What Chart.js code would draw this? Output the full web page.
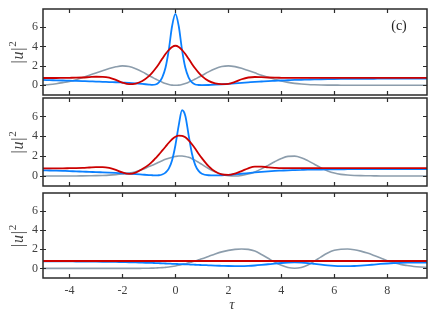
<!DOCTYPE html>
<html>
<head>
<meta charset="utf-8">
<script src="https://cdn.jsdelivr.net/npm/chart.js@4.4.1/dist/chart.umd.min.js"></script>
<style>
html, body { margin: 0; padding: 0; background: #fff; }
#wrap { position: relative; width: 436px; height: 316px; }
canvas { position: absolute; left: 0; }
</style>
</head>
<body>
<div id="wrap">
  <canvas id="p1" width="436" height="100" style="top:0px"></canvas>
  <canvas id="p2" width="436" height="94" style="top:96px"></canvas>
  <canvas id="p3" width="436" height="126" style="top:190px"></canvas>
</div>
<script>
// tau grid (denser around the central peak)
const tau = [-5, -4.75, -4.5, -4.25, -4, -3.75, -3.5, -3.25, -3, -2.75, -2.5, -2.25, -2, -1.75, -1.5, -1.25, -1,
  -0.875, -0.75, -0.625, -0.5, -0.375, -0.25, -0.125, 0, 0.125, 0.25, 0.375, 0.5, 0.625, 0.75, 0.875, 1,
  1.25, 1.5, 1.75, 2, 2.25, 2.5, 2.75, 3, 3.25, 3.5, 3.75, 4, 4.25, 4.5, 4.75, 5, 5.25, 5.5, 5.75, 6,
  6.25, 6.5, 6.75, 7, 7.25, 7.5, 7.75, 8, 8.25, 8.5, 8.75, 9, 9.25, 9.5];

// panel 1
const blue1 = [0.55, 0.53, 0.51, 0.49, 0.47, 0.45, 0.43, 0.41, 0.38, 0.36, 0.33, 0.31, 0.28, 0.25, 0.2, 0.14, 0.07,
  0.04, 0.08, 0.3, 0.8, 1.8, 3.65, 6.1, 7.35, 6.1, 3.65, 1.8, 0.8, 0.3, 0.08, 0.03, 0.02,
  0.03, 0.06, 0.1, 0.15, 0.2, 0.25, 0.3, 0.35, 0.39, 0.43, 0.46, 0.49, 0.52, 0.55, 0.57, 0.59, 0.61, 0.62, 0.63, 0.64,
  0.65, 0.66, 0.66, 0.67, 0.67, 0.67, 0.68, 0.68, 0.68, 0.68, 0.68, 0.68, 0.68, 0.68];
const red1 = [0.75, 0.75, 0.75, 0.76, 0.77, 0.78, 0.8, 0.84, 0.88, 0.87, 0.78, 0.55, 0.28, 0.12, 0.18, 0.45, 0.95,
  1.3, 1.72, 2.2, 2.72, 3.22, 3.63, 3.95, 4.07, 3.95, 3.63, 3.22, 2.72, 2.2, 1.72, 1.3, 0.95,
  0.45, 0.2, 0.12, 0.15, 0.35, 0.62, 0.8, 0.85, 0.83, 0.8, 0.78, 0.77, 0.76, 0.76, 0.76, 0.76, 0.76, 0.76, 0.76, 0.76,
  0.76, 0.76, 0.76, 0.76, 0.76, 0.76, 0.76, 0.76, 0.76, 0.76, 0.76, 0.76, 0.76, 0.76];
const gray1 = [0.04, 0.08, 0.16, 0.27, 0.4, 0.58, 0.8, 1.03, 1.27, 1.5, 1.72, 1.9, 2.0, 1.93, 1.7, 1.38, 1.0,
  0.82, 0.64, 0.48, 0.32, 0.19, 0.09, 0.02, 0.0, 0.02, 0.09, 0.19, 0.32, 0.48, 0.64, 0.82, 1.0,
  1.38, 1.7, 1.93, 2.0, 1.92, 1.75, 1.52, 1.28, 1.04, 0.82, 0.62, 0.44, 0.3, 0.2, 0.13, 0.08, 0.05, 0.03, 0.02, 0.02,
  0.01, 0.01, 0.01, 0.01, 0.01, 0.01, 0.01, 0.01, 0.01, 0.01, 0.01, 0.01, 0.01, 0.01];

// panel 2
const blue2 = [0.58, 0.56, 0.54, 0.52, 0.5, 0.47, 0.45, 0.42, 0.4, 0.37, 0.34, 0.31, 0.28, 0.24, 0.2, 0.15, 0.1,
  0.08, 0.06, 0.08, 0.16, 0.35, 0.75, 1.6, 3.1, 5.1, 6.62, 6.05, 4.1, 2.25, 1.1, 0.52, 0.24,
  0.08, 0.06, 0.08, 0.12, 0.17, 0.23, 0.3, 0.37, 0.43, 0.48, 0.52, 0.55, 0.58, 0.6, 0.62, 0.64, 0.65, 0.66, 0.67, 0.68,
  0.68, 0.69, 0.69, 0.69, 0.7, 0.7, 0.7, 0.7, 0.7, 0.7, 0.7, 0.7, 0.7, 0.7];
const red2 = [0.78, 0.78, 0.78, 0.78, 0.79, 0.8, 0.82, 0.86, 0.9, 0.9, 0.82, 0.62, 0.36, 0.22, 0.35, 0.7, 1.15,
  1.45, 1.8, 2.15, 2.55, 2.95, 3.35, 3.7, 3.95, 4.07, 4.05, 3.9, 3.6, 3.2, 2.75, 2.25, 1.8,
  1.0, 0.45, 0.17, 0.12, 0.25, 0.5, 0.78, 0.95, 0.95, 0.88, 0.83, 0.8, 0.8, 0.8, 0.8, 0.8, 0.8, 0.8, 0.8, 0.8,
  0.8, 0.8, 0.8, 0.8, 0.8, 0.8, 0.8, 0.8, 0.8, 0.8, 0.8, 0.8, 0.8, 0.8];
const gray2 = [0.0, 0.0, 0.0, 0.0, 0.01, 0.01, 0.02, 0.03, 0.04, 0.06, 0.09, 0.14, 0.21, 0.3, 0.44, 0.65, 0.95,
  1.08, 1.23, 1.39, 1.54, 1.68, 1.8, 1.9, 1.97, 2.01, 2.01, 1.97, 1.88, 1.75, 1.58, 1.38, 1.17,
  0.76, 0.42, 0.17, 0.04, 0.0, 0.06, 0.2, 0.42, 0.72, 1.07, 1.44, 1.77, 1.98, 2.0, 1.85, 1.55, 1.18, 0.82, 0.52, 0.3,
  0.17, 0.1, 0.06, 0.04, 0.03, 0.02, 0.01, 0.01, 0.01, 0.01, 0.01, 0.01, 0.01, 0.01];

// panel 3
const blue3 = [0.74, 0.74, 0.74, 0.73, 0.73, 0.72, 0.72, 0.71, 0.7, 0.69, 0.68, 0.67, 0.65, 0.64, 0.62, 0.6, 0.58,
  0.57, 0.55, 0.54, 0.53, 0.51, 0.5, 0.48, 0.47, 0.45, 0.44, 0.42, 0.41, 0.39, 0.38, 0.36, 0.35,
  0.32, 0.29, 0.27, 0.25, 0.24, 0.24, 0.26, 0.3, 0.36, 0.43, 0.5, 0.56, 0.6, 0.62, 0.6, 0.55, 0.47, 0.39, 0.32, 0.27,
  0.24, 0.23, 0.25, 0.29, 0.34, 0.4, 0.46, 0.51, 0.55, 0.58, 0.6, 0.61, 0.61, 0.61];
const gray3 = [0.0, 0.0, 0.0, 0.0, 0.0, 0.0, 0.0, 0.0, 0.0, 0.0, 0.0, 0.0, 0.0, 0.0, 0.0, 0.01, 0.02,
  0.03, 0.04, 0.06, 0.08, 0.11, 0.14, 0.19, 0.25, 0.32, 0.4, 0.49, 0.58, 0.68, 0.78, 0.89, 1.0,
  1.25, 1.5, 1.72, 1.88, 1.98, 2.02, 1.98, 1.8, 1.45, 1.05, 0.65, 0.32, 0.1, 0.02, 0.1, 0.35, 0.75, 1.2, 1.6, 1.88,
  2.0, 2.02, 1.95, 1.8, 1.6, 1.35, 1.08, 0.8, 0.6, 0.42, 0.3, 0.2, 0.14, 0.1];
const red3Tau = [-5, 9.5];
const red3 = [0.77, 0.77];

const xTicks = { min: -5, max: 9.5, step: 2 };
const yTicks = { min: -1, max: 7.85, step: 2 };

const BLUE = '#0a80ff', RED = '#cc0000', GRAY = '#8c9dac';
const SERIF = '"Liberation Serif", "DejaVu Serif", serif';
const INK = '#404040';

const frame = {
  id: 'frame',
  afterDatasetsDraw(chart, args, opts) {
    const { ctx, chartArea: a, scales: { x, y } } = chart;
    ctx.save();
    ctx.strokeStyle = '#2b2b2b';
    ctx.lineWidth = 1.5;
    ctx.strokeRect(a.left, a.top, a.right - a.left, a.bottom - a.top);
    ctx.lineWidth = 1.2;
    ctx.beginPath();
    x.ticks.forEach(t => {
      const px = Math.round(x.getPixelForValue(t.value)) + 0.5;
      ctx.moveTo(px, a.top); ctx.lineTo(px, a.top + 4);
      ctx.moveTo(px, a.bottom); ctx.lineTo(px, a.bottom - 4);
    });
    y.ticks.forEach(t => {
      const py = Math.round(y.getPixelForValue(t.value)) + 0.5;
      ctx.moveTo(a.left - 3, py); ctx.lineTo(a.left + 3, py);
      ctx.moveTo(a.right, py); ctx.lineTo(a.right - 4, py);
    });
    ctx.stroke();

    // y title |u|^2
    ctx.translate(19, (a.top + a.bottom) / 2);
    ctx.rotate(-Math.PI / 2);
    ctx.fillStyle = INK;
    ctx.textBaseline = 'middle';
    const parts = [['|', '16px ' + SERIF, 0], ['u', 'italic 16px ' + SERIF, 0], ['|', '16px ' + SERIF, 0], ['2', '11px ' + SERIF, -6]];
    let w = 0;
    parts.forEach(p => { ctx.font = p[1]; p.push(ctx.measureText(p[0]).width); w += p[3] + 0.8; });
    let xx = -w / 2;
    parts.forEach(p => { ctx.font = p[1]; ctx.fillText(p[0], xx, p[2]); xx += p[3] + 0.8; });
    ctx.restore();

    if (opts.tag) {
      ctx.save();
      ctx.font = '14px ' + SERIF;
      ctx.fillStyle = '#222';
      ctx.textAlign = 'center';
      ctx.textBaseline = 'middle';
      ctx.fillText(opts.tag, 399, 26);
      ctx.restore();
    }
    if (opts.xTitle) {
      ctx.save();
      ctx.font = 'italic 15px ' + SERIF;
      ctx.fillStyle = INK;
      ctx.textAlign = 'center';
      ctx.textBaseline = 'middle';
      ctx.fillText(opts.xTitle, 232, 305 - 190);
      ctx.restore();
    }
  }
};

// no automatic label padding: chart area comes only from layout padding and fixed axis sizes
function noPad(s) {
  s.paddingTop = 0; s.paddingBottom = 0; s.paddingLeft = 0; s.paddingRight = 0;
}

function makePanel(id, series, padTop, xh, xLabels, frameOpts) {
  new Chart(document.getElementById(id), {
    type: 'line',
    data: {
      datasets: series.map(s => ({
        data: s.t.map((t, i) => ({ x: t, y: s.v[i] })),
        borderColor: s.c,
        borderWidth: s.w,
        fill: false
      }))
    },
    options: {
      responsive: false,
      animation: false,
      layout: { padding: { top: padTop, right: 9, left: 0, bottom: 0 } },
      elements: { point: { radius: 0 }, line: { cubicInterpolationMode: 'monotone' } },
      plugins: { legend: { display: false }, tooltip: { enabled: false }, frame: frameOpts },
      events: [],
      scales: {
        x: {
          type: 'linear', min: xTicks.min, max: xTicks.max,
          grid: { display: false, drawTicks: false },
          border: { display: false },
          ticks: { display: xLabels, stepSize: xTicks.step, includeBounds: false, padding: 6, maxRotation: 0,
            font: { family: SERIF, size: 12 }, color: INK },
          afterFit: s => { s.height = xh; noPad(s); }
        },
        y: {
          min: yTicks.min, max: yTicks.max,
          grid: { display: false, drawTicks: false },
          border: { display: false },
          ticks: { stepSize: yTicks.step, includeBounds: false, padding: 5,
            font: { family: SERIF, size: 12 }, color: INK },
          afterFit: s => { s.width = 43; noPad(s); }
        }
      }
    },
    plugins: [frame]
  });
}

makePanel('p1', [
  { t: tau, v: red1, c: RED, w: 1.8 },
  { t: tau, v: blue1, c: BLUE, w: 1.8 },
  { t: tau, v: gray1, c: GRAY, w: 1.6 }
], 9, 5, false, { tag: '(c)' });

makePanel('p2', [
  { t: tau, v: red2, c: RED, w: 1.8 },
  { t: tau, v: blue2, c: BLUE, w: 1.8 },
  { t: tau, v: gray2, c: GRAY, w: 1.6 }
], 2, 4, false, {});

makePanel('p3', [
  { t: red3Tau, v: red3, c: RED, w: 1.8 },
  { t: tau, v: blue3, c: BLUE, w: 1.8 },
  { t: tau, v: gray3, c: GRAY, w: 1.6 }
], 3, 38, true, { xTitle: 'τ' });
</script>
</body>
</html>
